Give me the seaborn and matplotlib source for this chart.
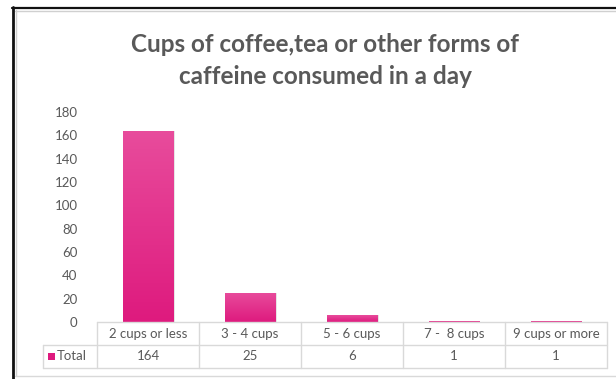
import numpy as np
import pandas as pd
import matplotlib
matplotlib.use("Agg")
import matplotlib.pyplot as plt
from matplotlib.colors import LinearSegmentedColormap
from matplotlib.lines import Line2D
from matplotlib.patches import Rectangle
import seaborn as sns

categories = ["2 cups or less", "3 - 4 cups", "5 - 6 cups", "7 -  8 cups", "9 cups or more"]
totals = [164, 25, 6, 1, 1]
series_name = "Total"
title = "Cups of coffee,tea or other forms of\ncaffeine consumed in a day"
y_ticks = [0, 20, 40, 60, 80, 100, 120, 140, 160, 180]

sns.set_theme(style="white")
plt.rcParams["font.family"] = ["Lato", "DejaVu Sans"]

TEXT = "#595959"
GRID = "#D9D9D9"
PINK_TOP = "#E84C9C"
PINK_MID = "#E4368D"
PINK_BOT = "#DE1A7E"

W, H = 616, 379
fig = plt.figure(figsize=(W / 100, H / 100), dpi=100)
fig.patch.set_facecolor("white")

def fx(px):
    return px / W

def fy(py):
    return 1 - py / H

left, right, top, base = 97, 607, 112, 322
ax = fig.add_axes([fx(left), fy(base), fx(right) - fx(left), fy(top) - fy(base)])

df = pd.DataFrame({"category": categories, "total": totals})
sns.barplot(data=df, x="category", y="total", color=PINK_MID, width=0.5,
            saturation=1, ax=ax, order=categories)

ax.set_xlim(-0.5, len(categories) - 0.5)
ax.set_ylim(0, 180)
ax.set_yticks(y_ticks)
ax.set_yticklabels([str(t) for t in y_ticks], color=TEXT, fontsize=9.5)
ax.tick_params(axis="y", length=0, pad=14)
ax.set_xticks([])
ax.set_xlabel("")
ax.set_ylabel("")
for s in ax.spines.values():
    s.set_visible(False)

# vertical gradient fill for the taller bars, plus a faint shadow on the right edge
cmap = LinearSegmentedColormap.from_list("pinkgrad", [PINK_TOP, PINK_BOT])
grad = np.linspace(0, 1, 256).reshape(-1, 1)
for p in list(ax.patches):
    x0, y0 = p.get_x(), p.get_y()
    w, h = p.get_width(), p.get_height()
    p.set_edgecolor("none")
    if h > 3:
        shadow = Rectangle((x0 + w, y0), 0.012, h, facecolor="#000000",
                           alpha=0.10, edgecolor="none", zorder=p.get_zorder() - 0.1)
        ax.add_patch(shadow)
        im = ax.imshow(grad, aspect="auto", cmap=cmap, extent=(x0, x0 + w, y0, y0 + h),
                       origin="upper", zorder=p.get_zorder() + 0.1)
        im.set_clip_path(p)
ax.set_xlim(-0.5, len(categories) - 0.5)
ax.set_ylim(0, 180)

# data table under the plot area
row1, row2, row3 = 322, 345, 368
leg_left = 43
col_w = (right - left) / len(categories)
lines = []
lines.append(((left, right), (row1, row1)))
lines.append(((leg_left, right), (row2, row2)))
lines.append(((leg_left, right), (row3, row3)))
lines.append(((leg_left, leg_left), (row2, row3)))
for i in range(len(categories) + 1):
    xx = left + i * col_w
    lines.append(((xx, xx), (row1, row3)))
for (xs, ys) in lines:
    fig.add_artist(Line2D([fx(xs[0]), fx(xs[1])], [fy(ys[0]), fy(ys[1])],
                          color=GRID, lw=1.0))

for i, (cat, val) in enumerate(zip(categories, totals)):
    cx = left + (i + 0.5) * col_w
    fig.text(fx(cx), fy((row1 + row2) / 2), cat, ha="center", va="center",
             color=TEXT, fontsize=9.5)
    fig.text(fx(cx), fy((row2 + row3) / 2), str(val), ha="center", va="center",
             color=TEXT, fontsize=9.5)

fig.add_artist(Rectangle((fx(48), fy(360)), fx(7), fy(353) - fy(360),
                         facecolor=PINK_BOT, edgecolor="none"))
fig.text(fx(57), fy((row2 + row3) / 2), series_name, ha="left", va="center",
         color=TEXT, fontsize=9.5)

# title
fig.text(fx(325), fy(45), title.split("\n")[0], ha="center", va="center",
         color=TEXT, fontsize=17.5, fontweight="bold")
fig.text(fx(325), fy(77), title.split("\n")[1], ha="center", va="center",
         color=TEXT, fontsize=17.5, fontweight="bold")

# chart frame
fig.add_artist(Line2D([fx(15), fx(616)], [fy(10.5), fy(10.5)], color="#D0D0D0", lw=1.0))
fig.add_artist(Line2D([fx(15.5), fx(15.5)], [fy(10), fy(376)], color="#D0D0D0", lw=1.0))
fig.add_artist(Line2D([fx(15), fx(616)], [fy(376), fy(376)], color="#D9D9D9", lw=1.0))
fig.add_artist(Line2D([fx(12), fx(616)], [fy(7.5), fy(7.5)], color="#111111", lw=1.6))
fig.add_artist(Line2D([fx(13), fx(13)], [fy(7), fy(379)], color="#111111", lw=2.0))

fig.savefig("out.png", dpi=100, facecolor="white")
